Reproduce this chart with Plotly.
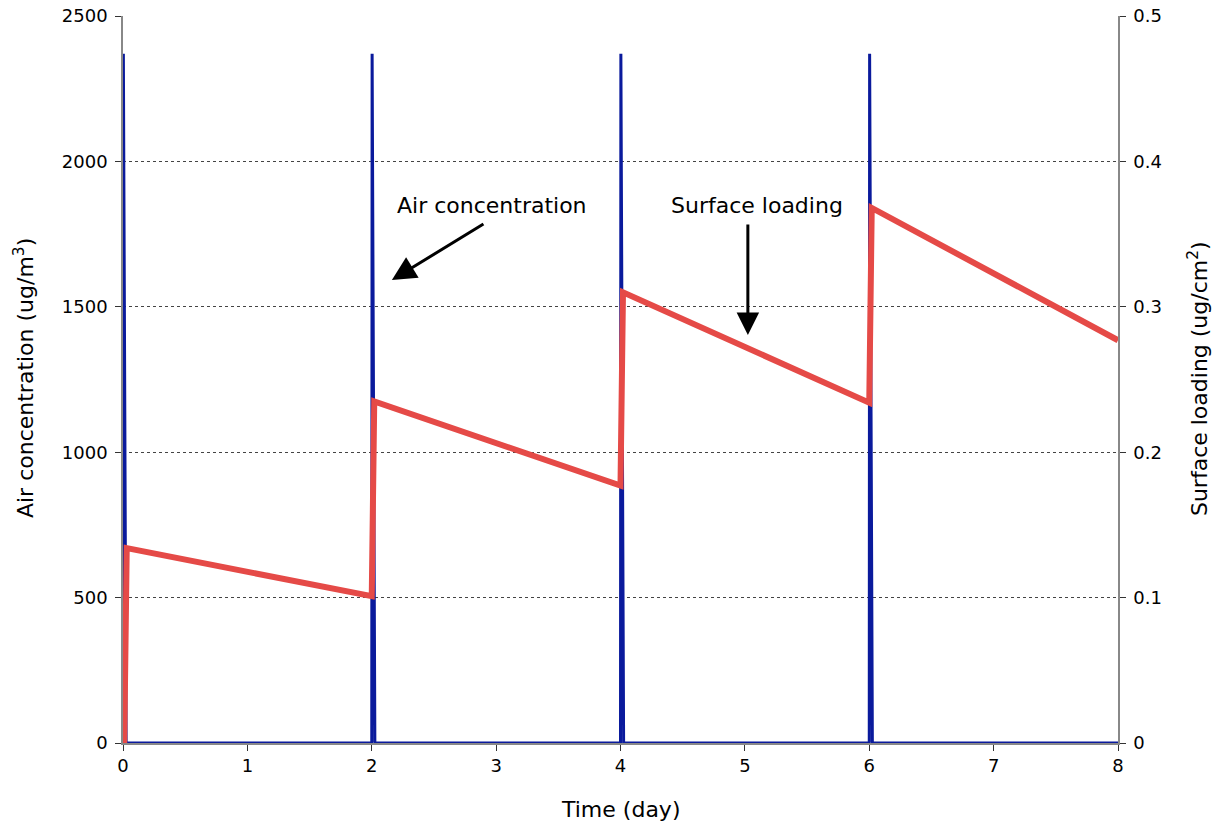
import plotly.graph_objects as go

# Air concentration (left axis, ug/m3)
air_time = [0, 0.003, 0.025, 2.0, 2.003, 2.025, 4.0, 4.003, 4.025, 6.0, 6.003, 6.025, 8.0]
air_conc = [0, 2370, 0, 0, 2370, 0, 0, 2370, 0, 0, 2370, 0, 0]

# Surface loading (right axis, ug/cm2)
surf_time = [0.01, 0.03, 2.0, 2.02, 4.0, 4.02, 6.0, 6.02, 8.0]
surf_load = [0, 0.134, 0.101, 0.235, 0.177, 0.310, 0.234, 0.368, 0.277]

x_ticks = [0, 1, 2, 3, 4, 5, 6, 7, 8]
y1_ticks = [0, 500, 1000, 1500, 2000, 2500]
y2_ticks = [0, 0.1, 0.2, 0.3, 0.4, 0.5]

FONT = "DejaVu Sans"
TICK = 18
TITLE = 22

fig = go.Figure()
fig.add_trace(go.Scatter(x=air_time, y=air_conc, mode="lines",
                         line=dict(color="#0a1a9c", width=3), yaxis="y",
                         showlegend=False, name="Air concentration"))
fig.add_trace(go.Scatter(x=surf_time, y=surf_load, mode="lines",
                         line=dict(color="#e54a47", width=6), yaxis="y2",
                         showlegend=False, name="Surface loading"))

axis_common = dict(showline=True, linecolor="#888888", linewidth=1.5,
                   ticks="outside", ticklen=6, tickcolor="#333333",
                   tickfont=dict(family=FONT, size=TICK, color="black"),
                   zeroline=False, automargin=False)

fig.update_layout(
    width=1217, height=825,
    margin=dict(l=123, r=99, t=16, b=82),
    plot_bgcolor="white", paper_bgcolor="white",
    font=dict(family=FONT, size=TICK, color="black"),
    xaxis=dict(range=[0, 8], tickvals=x_ticks, showgrid=False, **axis_common),
    yaxis=dict(range=[0, 2500], tickvals=y1_ticks, showgrid=True,
               gridcolor="#444444", griddash="dot", gridwidth=1,
               ticklabelstandoff=4, **axis_common),
    yaxis2=dict(range=[0, 0.5], tickvals=y2_ticks, overlaying="y", side="right",
                showgrid=False, ticklabelstandoff=4, **axis_common),
)

# axis titles
fig.add_annotation(x=-0.0995, y=0.502, xref="paper", yref="paper", textangle=-90,
                   xanchor="center", yanchor="middle",
                   text="Air concentration (ug/m<sup>3</sup>)", showarrow=False,
                   font=dict(family=FONT, size=TITLE, color="black"))
fig.add_annotation(x=1.0804, y=0.502, xref="paper", yref="paper", textangle=-90,
                   xanchor="center", yanchor="middle",
                   text="Surface loading (ug/cm<sup>2</sup>)", showarrow=False,
                   font=dict(family=FONT, size=TITLE, color="black"))
fig.add_annotation(x=0.4995, y=-0.092, xref="paper", yref="paper",
                   xanchor="center", yanchor="middle",
                   text="Time (day)", showarrow=False,
                   font=dict(family=FONT, size=TITLE, color="black"))

# callouts
fig.add_annotation(x=2.162, y=1592, ax=2.91, ay=1788, xref="x", yref="y",
                   axref="x", ayref="y", text="", showarrow=True,
                   arrowhead=2, arrowsize=1.6, arrowwidth=3, arrowcolor="black")
fig.add_annotation(x=2.966, y=1847, xref="x", yref="y", text="Air concentration",
                   showarrow=False, font=dict(family=FONT, size=TITLE, color="black"))
fig.add_annotation(x=5.024, y=1403, ax=5.024, ay=1788, xref="x", yref="y",
                   axref="x", ayref="y", text="", showarrow=True,
                   arrowhead=2, arrowsize=1.5, arrowwidth=3, arrowcolor="black")
fig.add_annotation(x=5.097, y=1847, xref="x", yref="y", text="Surface loading",
                   showarrow=False, font=dict(family=FONT, size=TITLE, color="black"))

fig.write_html("out.html", config={"displayModeBar": False},
               post_script="document.body.style.margin='0px';document.body.style.padding='0px';")
